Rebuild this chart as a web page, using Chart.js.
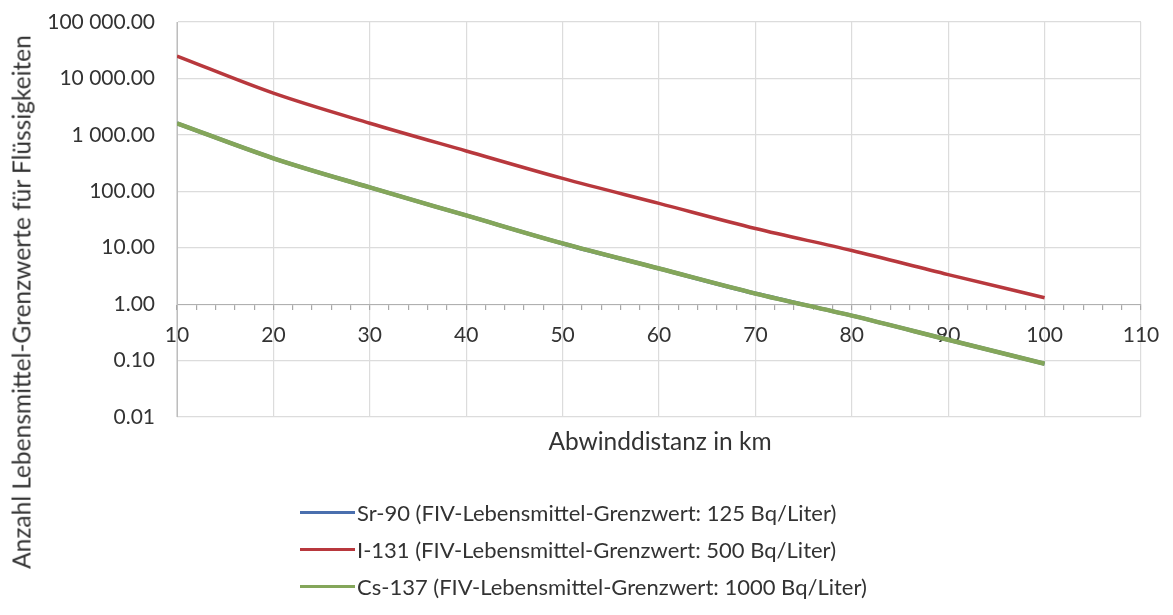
<!DOCTYPE html>
<html lang="de">
<head>
<meta charset="utf-8">
<title>Lebensmittel-Grenzwerte</title>
<script src="https://cdn.jsdelivr.net/npm/chart.js@4.4.1/dist/chart.umd.min.js"></script>
<style>
    body { margin: 0; background: #fff; }
    #wrap { position: relative; width: 1173px; height: 615px; font-family: Lato, sans-serif; color: #333; }
    #yTitle { position: absolute; left: 21px; top: 302px; transform: translate(-50%, -50%) rotate(-90deg); white-space: nowrap; font-size: 24.5px; }
    #xTitle { position: absolute; left: 660px; top: 440px; transform: translate(-50%, -50%); white-space: nowrap; font-size: 24.5px; }
    #legend { position: absolute; left: 300px; top: 494px; }
    .item { display: flex; align-items: center; height: 37px; font-size: 22px; white-space: nowrap; }
    .swatch { width: 55px; height: 3px; margin-right: 2px; }
</style>
</head>
<body>
<div id="wrap">
    <canvas id="chart" width="1173" height="615"></canvas>
    <div id="yTitle">Anzahl Lebensmittel-Grenzwerte für Flüssigkeiten</div>
    <div id="xTitle">Abwinddistanz in km</div>
    <div id="legend"></div>
</div>
<script>
// Abwinddistanz (km)
const distances = [10, 20, 30, 40, 50, 60, 70, 80, 90, 100];

// Werte pro Nuklid
const sr90Values  = [1600, 384, 117, 37.3, 11.9, 4.28, 1.54, 0.625, 0.234, 0.088];
const i131Values  = [24900, 5480, 1607, 518, 169, 61, 21.9, 8.9, 3.34, 1.30];
const cs137Values = [1600, 384, 117, 37.3, 11.9, 4.28, 1.54, 0.625, 0.234, 0.088];

const seriesLabels = [
    'Sr-90 (FIV-Lebensmittel-Grenzwert: 125 Bq/Liter)',
    'I-131 (FIV-Lebensmittel-Grenzwert: 500 Bq/Liter)',
    'Cs-137 (FIV-Lebensmittel-Grenzwert: 1000 Bq/Liter)'
];
const seriesColors = ['#4a6fae', '#b8383d', '#84a65a'];

// Achsenbeschriftungen
const yTicks = [0.01, 0.1, 1, 10, 100, 1000, 10000, 100000];
const xMin = 10, xMax = 110;

const textColor = '#333';
const gridColor = '#dcdcdc';

function formatNumber(v) {
    const parts = v.toFixed(2).split('.');
    return parts[0].replace(/\B(?=(\d{3})+(?!\d))/g, ' ') + '.' + parts[1];
}

function toPoints(values) {
    return distances.map((d, i) => ({ x: d, y: values[i] }));
}

const allValues = [sr90Values, i131Values, cs137Values];
const widths = [4, 3.5, 4.5];

const datasets = allValues.map((values, i) => ({
    label: seriesLabels[i],
    data: toPoints(values),
    borderColor: seriesColors[i],
    backgroundColor: seriesColors[i],
    borderWidth: widths[i],
    pointRadius: 0,
    cubicInterpolationMode: 'monotone',
    fill: false,
    order: 3 - i
}));

new Chart(document.getElementById('chart'), {
    type: 'line',
    data: { datasets: datasets },
    options: {
        responsive: false,
        animation: false,
        layout: { padding: { left: 0, right: 32, top: 22, bottom: 198 } },
        plugins: {
            legend: { display: false },
            tooltip: { enabled: false }
        },
        scales: {
            x: {
                type: 'linear',
                position: { y: 1 },
                min: xMin,
                max: xMax,
                ticks: {
                    stepSize: 2,
                    autoSkip: false,
                    maxRotation: 0,
                    padding: 13,
                    color: textColor,
                    font: { family: 'Lato', size: 21 },
                    callback: function(value) {
                        return value % 10 === 0 ? value : '';
                    }
                },
                grid: {
                    color: function(ctx) {
                        return ctx.tick && ctx.tick.value % 10 === 0 ? gridColor : 'rgba(0,0,0,0)';
                    },
                    tickColor: '#a8a8a8',
                    tickLength: 5,
                    lineWidth: 1.2
                },
                border: { color: '#b0b0b0' }
            },
            y: {
                type: 'logarithmic',
                min: yTicks[0],
                max: yTicks[yTicks.length - 1],
                afterBuildTicks: function(scale) {
                    scale.ticks = yTicks.map(v => ({ value: v }));
                },
                afterFit: function(scale) {
                    scale.width = 177;
                },
                ticks: {
                    padding: 2,
                    color: textColor,
                    font: { family: 'Lato', size: 21 },
                    callback: function(value) {
                        return formatNumber(value);
                    }
                },
                // unsichtbare Tickmarks als Abstand zwischen Beschriftung und Achse
                grid: { color: gridColor, drawTicks: true, tickLength: 20, tickColor: 'rgba(0,0,0,0)', lineWidth: 1.2 },
                border: { color: '#bdbdbd' }
            }
        }
    }
});

// Legende
const legend = document.getElementById('legend');
seriesLabels.forEach((label, i) => {
    const item = document.createElement('div');
    item.className = 'item';
    const swatch = document.createElement('span');
    swatch.className = 'swatch';
    swatch.style.background = seriesColors[i];
    const text = document.createElement('span');
    text.textContent = label;
    item.appendChild(swatch);
    item.appendChild(text);
    legend.appendChild(item);
});
</script>
</body>
</html>
